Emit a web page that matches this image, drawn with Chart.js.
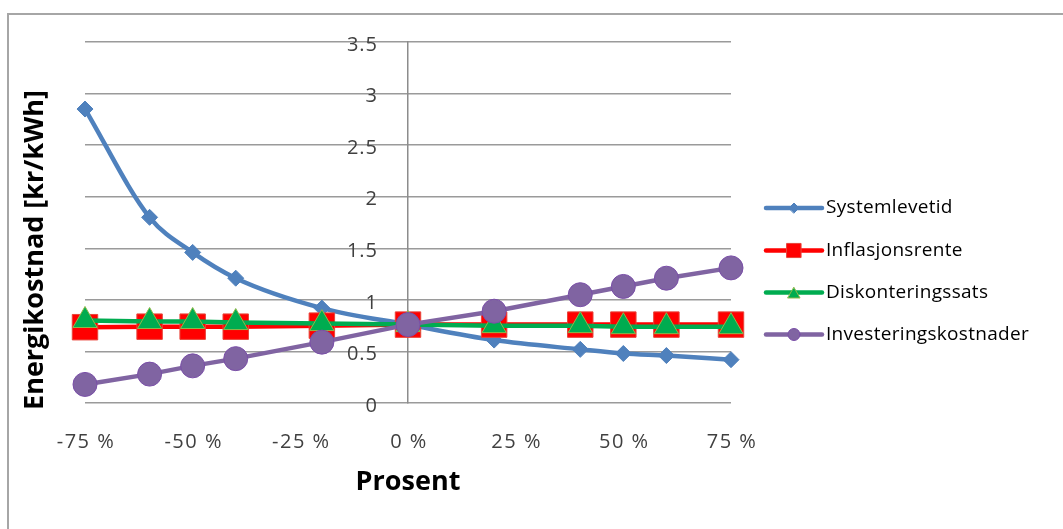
<!DOCTYPE html>
<html>
<head>
<meta charset="utf-8">
<script src="https://cdn.jsdelivr.net/npm/chart.js@4/dist/chart.umd.min.js"></script>
<style>
  html, body { margin: 0; padding: 0; background: #ffffff; }
  #wrap { width: 1063px; height: 529px; }
</style>
</head>
<body>
<div id="wrap"><canvas id="c" width="1063" height="529"></canvas></div>
<script>
// Percent change of each input parameter
const prosent = [-75, -60, -50, -40, -20, 0, 20, 40, 50, 60, 75];

// Energy cost [kr/kWh] per parameter
const systemlevetid         = [2.85, 1.80, 1.46, 1.21, 0.92, 0.76, 0.61, 0.52, 0.48, 0.46, 0.42];
const inflasjonsrente       = [0.735, 0.74, 0.74, 0.74, 0.75, 0.76, 0.76, 0.76, 0.76, 0.76, 0.76];
const diskonteringssats     = [0.80, 0.79, 0.79, 0.78, 0.77, 0.76, 0.75, 0.75, 0.74, 0.74, 0.74];
const investeringskostnader = [0.18, 0.28, 0.36, 0.43, 0.59, 0.76, 0.89, 1.05, 1.13, 1.21, 1.31];

const seriesNames = ['Systemlevetid', 'Inflasjonsrente', 'Diskonteringssats', 'Investeringskostnader'];

// Axis ticks
const xTickValues = [-75, -50, -25, 0, 25, 50, 75];
const xTickLabels = ['-75 %', '-50 %', '-25 %', '0 %', '25 %', '50 %', '75 %'];
const yTickValues = [0, 0.5, 1, 1.5, 2, 2.5, 3, 3.5];
const yTickLabels = ['0', '0.5', '1', '1.5', '2', '2.5', '3', '3.5'];

const xTitle = 'Prosent';
const yTitle = 'Energikostnad [kr/kWh]';

const FONT = "'Open Sans', 'Liberation Sans', sans-serif";

function pts(values) {
  return values.map((v, i) => ({ x: prosent[i], y: v }));
}

const styles = [
  { color: '#4f81bd', point: 'rectRot',  radius: 8,  border: '#4f81bd', legendR: 5,  smooth: true },
  { color: '#ff0000', point: 'rect',     radius: 18, border: '#e8443a', legendR: 10, smooth: false },
  { color: '#00ac50', point: 'triangle', radius: 14, border: '#8fb84a', legendR: 7,  smooth: false },
  { color: '#8064a2', point: 'circle',   radius: 12, border: '#7a4fa8', legendR: 6,  smooth: false }
];
const seriesValues = [systemlevetid, inflasjonsrente, diskonteringssats, investeringskostnader];

const datasets = seriesValues.map((vals, i) => ({
  label: seriesNames[i],
  data: pts(vals),
  borderColor: styles[i].color,
  backgroundColor: styles[i].color,
  borderWidth: 4.5,
  pointStyle: styles[i].point,
  pointRadius: styles[i].radius,
  pointHoverRadius: styles[i].radius,
  pointBackgroundColor: styles[i].color,
  pointBorderColor: styles[i].border,
  pointBorderWidth: 1,
  cubicInterpolationMode: styles[i].smooth ? 'monotone' : 'default',
  tension: 0,
  clip: false,
  order: 4 - i
}));

// Wraps a scale's label drawing with an offset and letter spacing
function wrapLabels(scale, dx, dy, spacing) {
  if (scale._wrappedLabels) return;
  const orig = scale.drawLabels;
  scale.drawLabels = function (area) {
    const c = this.ctx;
    c.save();
    c.translate(dx, dy);
    c.letterSpacing = spacing;
    orig.call(this, area);
    c.restore();
  };
  scale._wrappedLabels = true;
}

// Frame, rotated y title and line+marker legend
const decorations = {
  id: 'decorations',
  afterLayout(chart) {
    wrapLabels(chart.scales.y, -30, 3, '1px');
    wrapLabels(chart.scales.x, 1, 0, '1.5px');
  },
  beforeDraw(chart) {
    const ctx = chart.ctx;
    ctx.save();
    ctx.fillStyle = '#ffffff';
    ctx.fillRect(0, 0, chart.width, chart.height);
    ctx.strokeStyle = '#a6a6a6';
    ctx.lineWidth = 2;
    ctx.beginPath();
    ctx.moveTo(8, chart.height);
    ctx.lineTo(8, 14);
    ctx.lineTo(chart.width, 14);
    ctx.stroke();
    ctx.restore();
  },
  afterDraw(chart) {
    const ctx = chart.ctx;
    ctx.save();
    // y-axis title
    ctx.translate(35, 250);
    ctx.rotate(-Math.PI / 2);
    ctx.font = "bold 27px " + FONT;
    ctx.fillStyle = '#000000';
    ctx.textAlign = 'center';
    ctx.textBaseline = 'middle';
    ctx.fillText(yTitle, 0, 0);
    ctx.restore();

    // legend
    const x0 = 766, x1 = 822, rowY = [208, 250.5, 292.5, 334.5];
    chart.data.datasets.forEach((ds, i) => {
      const y = rowY[i];
      ctx.save();
      ctx.strokeStyle = ds.borderColor;
      ctx.lineWidth = 4.5;
      ctx.lineCap = 'round';
      ctx.beginPath();
      ctx.moveTo(x0, y);
      ctx.lineTo(x1, y);
      ctx.stroke();
      ctx.fillStyle = ds.pointBackgroundColor;
      ctx.strokeStyle = ds.pointBorderColor;
      ctx.lineWidth = 1;
      Chart.helpers.drawPoint(ctx, {
        pointStyle: ds.pointStyle,
        rotation: 0,
        radius: styles[i].legendR,
        borderWidth: 1
      }, (x0 + x1) / 2, y + (ds.pointStyle === 'triangle' ? 2 : 0));
      ctx.font = "19px " + FONT;
      ctx.fillStyle = '#000000';
      ctx.textAlign = 'left';
      ctx.textBaseline = 'middle';
      ctx.letterSpacing = '0.3px';
      ctx.fillText(ds.label, 826, y);
      ctx.restore();
    });
  }
};

new Chart(document.getElementById('c'), {
  type: 'line',
  data: { datasets },
  options: {
    responsive: false,
    animation: false,
    events: [],
    layout: { padding: { left: 85, right: 332, top: 42, bottom: 0 } },
    plugins: {
      legend: { display: false },
      tooltip: { enabled: false }
    },
    scales: {
      x: {
        type: 'linear',
        position: 'bottom',
        min: -75,
        max: 75,
        afterBuildTicks(scale) { scale.ticks = xTickValues.map(v => ({ value: v })); },
        afterFit(scale) { scale.height = 126; },
        grid: { display: false, drawTicks: false },
        border: { display: false },
        ticks: {
          padding: 27,
          color: '#404040',
          font: { family: FONT, size: 20 },
          maxRotation: 0,
          autoSkip: false,
          callback: (v, i) => xTickLabels[i]
        },
        title: {
          display: true,
          text: xTitle,
          color: '#000000',
          font: { family: FONT, size: 27, weight: 'bold' },
          padding: { top: 0, bottom: 30 }
        }
      },
      y: {
        type: 'linear',
        position: { x: 0 },
        min: 0,
        max: 3.5,
        afterBuildTicks(scale) { scale.ticks = yTickValues.map(v => ({ value: v })); },
        grid: { color: '#9a9a9a', lineWidth: 1.5, drawTicks: false },
        border: { display: true, color: '#8c8c8c', width: 1.5 },
        ticks: {
          padding: 0,
          color: '#404040',
          font: { family: FONT, size: 20 },
          autoSkip: false,
          callback: (v, i) => yTickLabels[i]
        }
      }
    }
  },
  plugins: [decorations]
});
</script>
</body>
</html>
